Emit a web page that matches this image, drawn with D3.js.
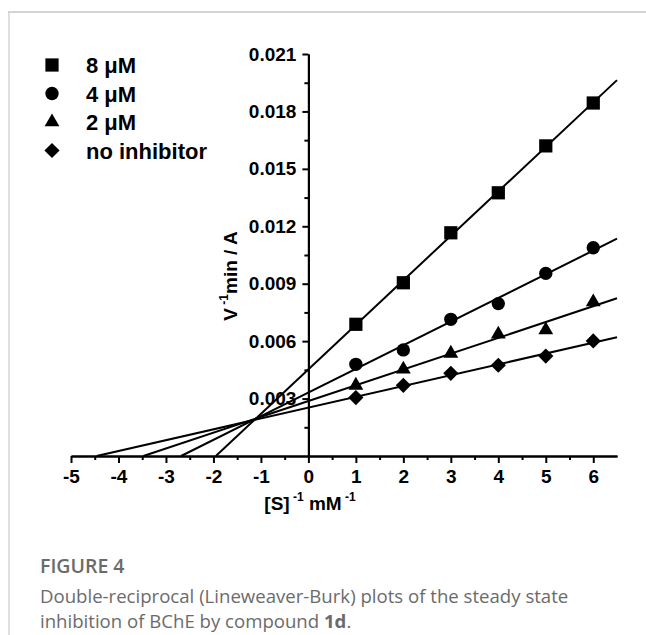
<!DOCTYPE html>
<html>
<head>
<meta charset="utf-8">
<script src="https://cdn.jsdelivr.net/npm/d3@7"></script>
<style>
  html, body { margin: 0; padding: 0; background: #fff; }
  svg { display: block; }
</style>
</head>
<body>
<svg id="chart" width="646" height="635"></svg>
<script>
// ---- data ----
const seriesNames = ["8 μM", "4 μM", "2 μM", "no inhibitor"];
const substrateInv = [1, 2, 3, 4, 5, 6];           // [S]^-1 (mM^-1)
const v8uM  = [0.00688, 0.00905, 0.01166, 0.01375, 0.01620, 0.01844];
const v4uM  = [0.00479, 0.00554, 0.00714, 0.00796, 0.00954, 0.01088];
const v2uM  = [0.00369, 0.00453, 0.00536, 0.00636, 0.00658, 0.00804];
const v0uM  = [0.00305, 0.00369, 0.00432, 0.00474, 0.00522, 0.00601];
const xTickValues = [-5, -4, -3, -2, -1, 0, 1, 2, 3, 4, 5, 6];
const yTickValues = [0.003, 0.006, 0.009, 0.012, 0.015, 0.018, 0.021];
const captionTitle = "FIGURE 4";
const captionLine1 = "Double-reciprocal (Lineweaver-Burk) plots of the steady state";
const captionLine2a = "inhibition of BChE by compound ";
const captionLine2b = "1d";
const captionLine2c = ".";

const seriesValues = [v8uM, v4uM, v2uM, v0uM];
const symbolTypes = [d3.symbolSquare, d3.symbolCircle, d3.symbolTriangle, d3.symbolSquare];
const symbolSizes = [175, 140, 95, 115];
const symbolRot = [0, 0, 0, 45];

const svg = d3.select("#chart");
const FONT = "'Liberation Sans', Arial, sans-serif";

// frame
svg.append("line").attr("x1", 8).attr("x2", 646).attr("y1", 12).attr("y2", 12)
  .attr("stroke", "#d4d4d4").attr("stroke-width", 2);
svg.append("line").attr("x1", 9).attr("x2", 9).attr("y1", 12).attr("y2", 635)
  .attr("stroke", "#d4d4d4").attr("stroke-width", 1.5);

const x = d3.scaleLinear().domain([-5, 6.5]).range([71, 617]);
const y = d3.scaleLinear().domain([0, 0.021]).range([456, 54]);

const fmtX = d => String(d);
const fmtY = d => d.toFixed(3);

// minor ticks
const xMinor = d3.range(-4.5, 6.5, 1);
const yMinor = d3.range(0.0015, 0.021, 0.003);

svg.append("g").attr("transform", `translate(0,${y(0)})`)
  .call(d3.axisBottom(x).tickValues(xMinor).tickSize(4).tickSizeOuter(0).tickFormat(""));
svg.append("g").attr("transform", `translate(0,${y(0)})`)
  .call(d3.axisBottom(x).tickValues(xTickValues).tickSize(7).tickSizeOuter(0).tickPadding(7).tickFormat(fmtX));

svg.append("g").attr("transform", `translate(${x(0)},0)`)
  .call(d3.axisLeft(y).tickValues(yMinor).tickSize(4).tickSizeOuter(0).tickFormat(""));
svg.append("g").attr("transform", `translate(${x(0)},0)`)
  .call(d3.axisLeft(y).tickValues(yTickValues).tickSize(6).tickSizeOuter(0).tickPadding(6).tickFormat(fmtY));

svg.selectAll(".domain").attr("stroke", "#000").attr("stroke-width", 2);
svg.selectAll(".tick line").attr("stroke", "#000").attr("stroke-width", 2);
svg.selectAll(".tick text").attr("fill", "#000").attr("font-family", FONT)
  .attr("font-weight", "bold").attr("font-size", 19);

// axis titles
const xt = svg.append("text").attr("x", 310).attr("y", 510).attr("text-anchor", "middle")
  .attr("font-family", FONT).attr("font-weight", "bold").attr("font-size", 19).attr("fill", "#000");
xt.append("tspan").text("[S]");
xt.append("tspan").attr("font-size", 12).attr("dy", -9).text(" -1");
xt.append("tspan").attr("dy", 9).text(" mM");
xt.append("tspan").attr("font-size", 12).attr("dy", -9).text(" -1");

const yt = svg.append("text").attr("transform", "translate(237,276) rotate(-90)").attr("text-anchor", "middle")
  .attr("font-family", FONT).attr("font-weight", "bold").attr("font-size", 19).attr("fill", "#000");
yt.append("tspan").text("V");
yt.append("tspan").attr("font-size", 12).attr("dy", -9).text(" -1");
yt.append("tspan").attr("dy", 9).text("min / A");

// regression lines (least squares fit of each series)
function fit(xs, ys) {
  const mx = d3.mean(xs), my = d3.mean(ys);
  const sxy = d3.sum(xs, (v, i) => (v - mx) * (ys[i] - my));
  const sxx = d3.sum(xs, v => (v - mx) * (v - mx));
  const b = sxy / sxx;
  return { slope: b, intercept: my - b * mx };
}
const lineGen = d3.line().x(d => x(d[0])).y(d => y(d[1]));
seriesValues.forEach(vals => {
  const f = fit(substrateInv, vals);
  const x0 = -f.intercept / f.slope;
  const x1 = 6.5;
  svg.append("path")
    .attr("d", lineGen([[x0, 0], [x1, f.intercept + f.slope * x1]]))
    .attr("stroke", "#000").attr("stroke-width", 2).attr("fill", "none");
});

// markers
seriesValues.forEach((vals, si) => {
  const sym = d3.symbol().type(symbolTypes[si]).size(symbolSizes[si]);
  svg.append("g").selectAll("path").data(vals).join("path")
    .attr("d", sym)
    .attr("transform", (d, i) => `translate(${x(substrateInv[i])},${y(d)}) rotate(${symbolRot[si]})`)
    .attr("fill", "#000");
});

// legend
const legend = svg.append("g");
seriesNames.forEach((name, si) => {
  const cy = 65 + si * 28.5;
  legend.append("path")
    .attr("d", d3.symbol().type(symbolTypes[si]).size(symbolSizes[si])())
    .attr("transform", `translate(52,${cy}) rotate(${symbolRot[si]})`)
    .attr("fill", "#000");
  legend.append("text").attr("x", 86).attr("y", cy + 8)
    .attr("font-family", FONT).attr("font-weight", "bold").attr("font-size", 22)
    .attr("fill", "#000").text(name);
});

// caption
const CAP = "'Open Sans', 'Noto Sans', sans-serif";
svg.append("text").attr("x", 40).attr("y", 573).attr("font-family", CAP)
  .attr("font-size", 19.5).attr("font-weight", 600).attr("fill", "#6b6b6b").text(captionTitle);
svg.append("text").attr("x", 40).attr("y", 603).attr("font-family", CAP)
  .attr("font-size", 18.6).attr("fill", "#6b6b6b").text(captionLine1);
const c2 = svg.append("text").attr("x", 40).attr("y", 628).attr("font-family", CAP)
  .attr("font-size", 18.6).attr("fill", "#6b6b6b");
c2.append("tspan").text(captionLine2a);
c2.append("tspan").attr("font-weight", "bold").text(captionLine2b);
c2.append("tspan").text(captionLine2c);
</script>
</body>
</html>
